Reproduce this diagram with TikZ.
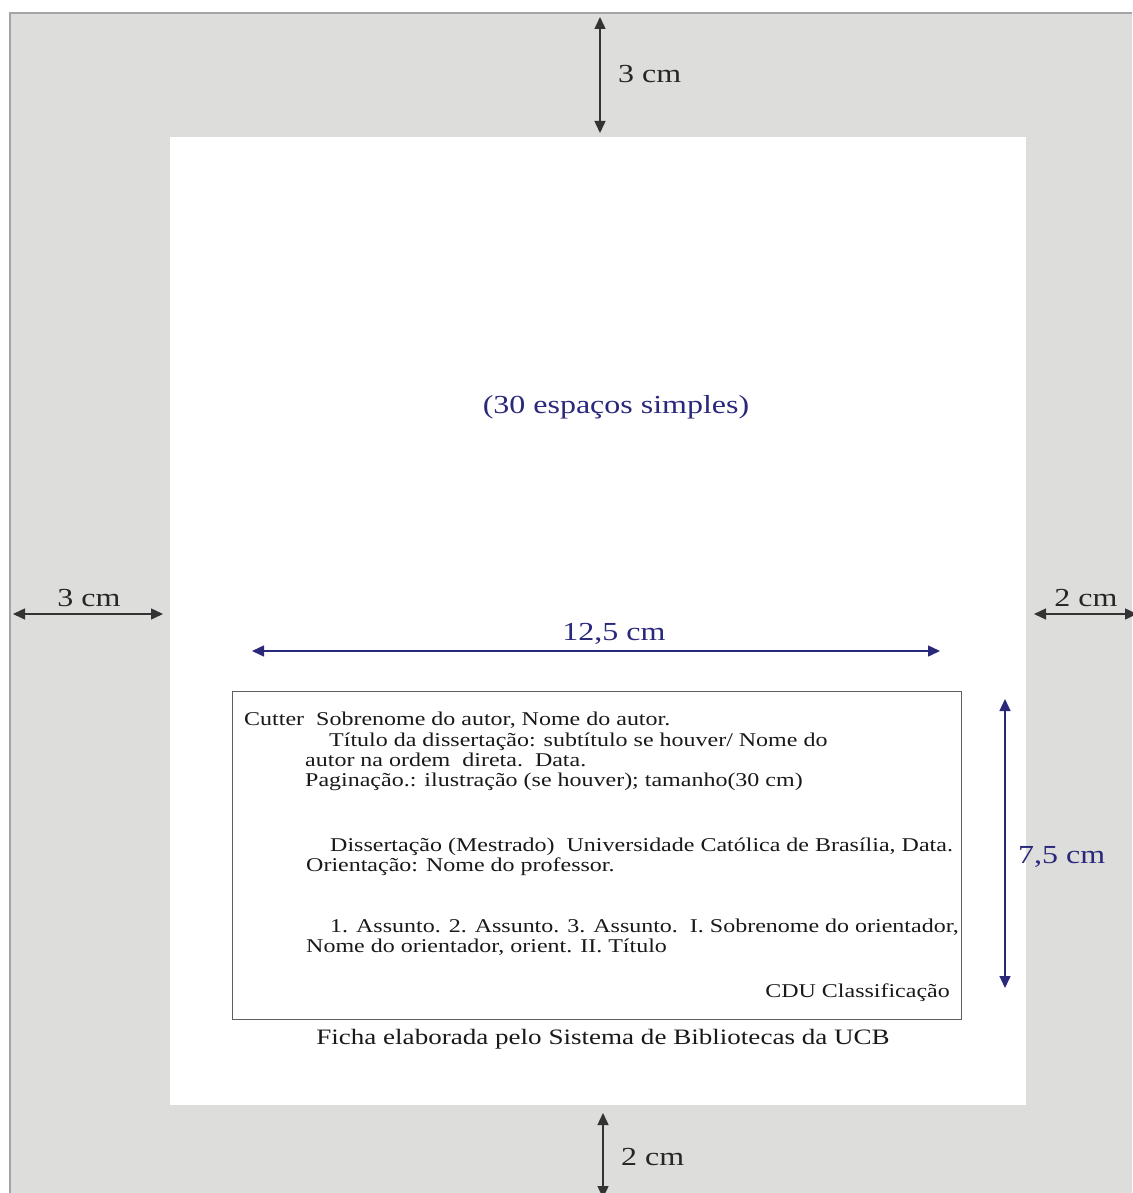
\documentclass[tikz,border=0pt]{standalone}
\usepackage{fontspec}
\setmainfont{Liberation Serif}[FakeStretch=1.23]
\usepackage{xcolor}
\usetikzlibrary{arrows.meta}
\definecolor{fundo}{RGB}{221,221,219}
\definecolor{borda}{RGB}{165,165,165}
\definecolor{azul}{RGB}{42,40,122}
\definecolor{moldura}{RGB}{95,95,95}

\begin{document}
\begin{tikzpicture}[x=1pt, y=-1pt,
  cota/.style  ={{Triangle[length=12pt,width=11pt]}-{Triangle[length=12pt,width=11pt]},
                 line width=1.4pt, black!80},
  cotaaz/.style={cota, azul},
  med/.style   ={font=\fontsize{26}{28}\selectfont, inner sep=0pt, anchor=base,
                 text=black!85},
  medaz/.style ={med, text=azul},
  lin/.style   ={font=\fontsize{19.5}{21}\selectfont, anchor=base west,
                 inner sep=0pt, text=black!90}]

\useasboundingbox (0,0) rectangle (1132,1193);
\fill[white] (0,0) rectangle (1132,1193);
\fill[fundo] (10,13) rectangle (1132,1193);
\draw[borda, line width=1.5pt] (10,1193) -- (10,13) -- (1132,13);
\fill[white] (170,137) rectangle (1026,1105);

% margens
\coordinate (supA) at (600,17);   \coordinate (supB) at (600,133);
\coordinate (esqA) at (13,614);   \coordinate (esqB) at (163,614);
\coordinate (dirA) at (1034,614); \coordinate (dirB) at (1137,614);
\coordinate (infA) at (603,1113); \coordinate (infB) at (603,1198);
\foreach \a/\b in {supA/supB,esqA/esqB,dirA/dirB,infA/infB}
  \draw[cota] (\a) -- (\b);

\node[med, anchor=base west] (msup) at (618,83) {3 cm};
\node[med] (mesq) at (89,606) {3 cm};
\node[med] (mdir) at (1086,606) {2 cm};
\node[med, anchor=base west] (minf) at (621,1165) {2 cm};

\node[medaz] (esp) at (616,413) {(30 espaços simples)};

% ficha
\coordinate (largA) at (252,651); \coordinate (largB) at (940,651);
\coordinate (altA) at (1005,699); \coordinate (altB) at (1005,988);
\foreach \a/\b in {largA/largB,altA/altB}
  \draw[cotaaz] (\a) -- (\b);
\node[medaz] (larg) at (614,640) {12,5 cm};
\node[medaz, anchor=base west] (alt) at (1018,863) {7,5 cm};

\node[draw=moldura, line width=1.2pt, anchor=north west, inner sep=0pt,
      minimum width=729pt, minimum height=328pt] (ficha) at (232,691) {};

\node[lin] (cutter) at (244,725) {Cutter};
\node[lin] (autor)  at (316,725) {Sobrenome do autor, Nome do autor.};
\node[lin] (tit)    at (329,746) {Título da dissertação: subtítulo se houver/ Nome do};
\node[lin] (tit2)   at (305,766) {autor na ordem\ \ direta.\ \ Data.};
\node[lin] (pag)    at (305,786) {Paginação.: ilustração (se houver); tamanho(30 cm)};
\node[lin] (diss)   at (330,851) {Dissertação (Mestrado)\ \ Universidade Católica de Brasília, Data.};
\node[lin] (orie)   at (306,871) {Orientação: Nome do professor.};
\node[lin] (ass)    at (330,932) {1. Assunto. 2. Assunto. 3. Assunto.\ \ I. Sobrenome do orientador,};
\node[lin] (ass2)   at (306,952) {Nome do orientador, orient. II. Título};
\node[lin, anchor=base east] (cdu) at (950,997) {CDU Classificação};

\node[font=\fontsize{22}{24}\selectfont, anchor=base, inner sep=0pt, text=black!90]
  (rod) at (603,1044) {Ficha elaborada pelo Sistema de Bibliotecas da UCB};
\end{tikzpicture}
\end{document}
